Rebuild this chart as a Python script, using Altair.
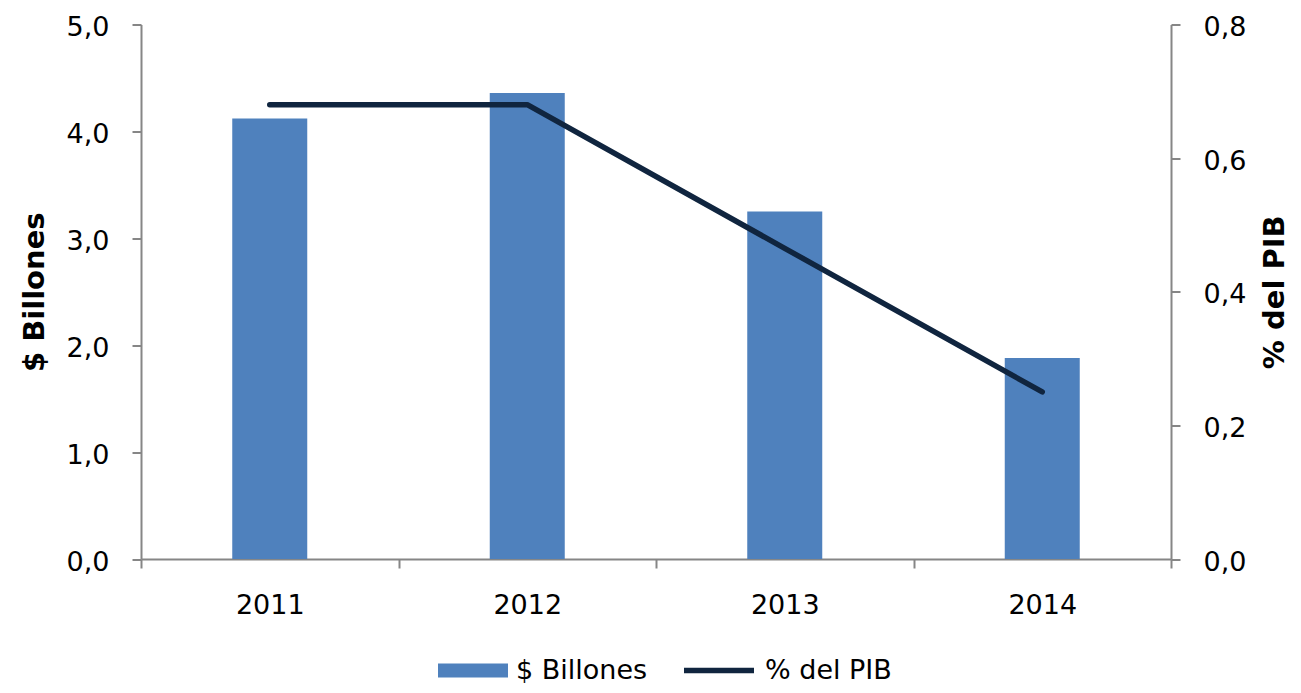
import altair as alt
import pandas as pd

years = ["2011", "2012", "2013", "2014"]
billones = [4.12, 4.36, 3.25, 1.88]
pct_pib = [0.68, 0.68, 0.465, 0.25]
left_ticks = [0, 1, 2, 3, 4, 5]
right_ticks = [0, 0.2, 0.4, 0.6, 0.8]
series_names = ["$ Billones", "% del PIB"]
series_colors = ["#4F81BD", "#10253F"]

bars_df = pd.DataFrame({"year": years, "value": billones, "serie": series_names[0]})
line_df = pd.DataFrame({"year": years, "value": pct_pib, "serie": series_names[1]})

FONT = "DejaVu Sans"
GRAY = "#868686"
LABEL_SIZE = 27
TITLE_SIZE = 29

x_enc = alt.X(
    "year:N",
    sort=years,
    scale=alt.Scale(paddingInner=0, paddingOuter=0),
    axis=alt.Axis(
        title=None,
        tickBand="extent",
        labelPadding=24,
        labelAngle=0,
    ),
)

legend_common = dict(
    title=None,
    orient="none",
    direction="horizontal",
    labelFont=FONT,
    labelFontSize=LABEL_SIZE,
    labelColor="#000000",
    labelOffset=8,
    symbolSize=4900,
    symbolOpacity=1,
)

bars = alt.Chart(bars_df).mark_bar(size=75).encode(
    x=x_enc,
    y=alt.Y(
        "value:Q",
        scale=alt.Scale(domain=[0, 5], nice=False),
        axis=alt.Axis(
            orient="left",
            values=left_ticks,
            title="$ Billones",
            titleFontSize=TITLE_SIZE,
            titleFontWeight="bold",
            titleFont=FONT,
            titleColor="#000000",
            titlePadding=17,
            labelPadding=23,
            labelOffset=3,
            labelExpr="replace(format(datum.value, '.1f'), '.', ',')",
        ),
    ),
    fill=alt.Fill(
        "serie:N",
        scale=alt.Scale(domain=[series_names[0]], range=[series_colors[0]]),
        legend=alt.Legend(
            legendX=297,
            legendY=611,
            symbolType="M-1,-0.2H1V0.2H-1Z",
            symbolStrokeWidth=0,
            **legend_common,
        ),
    ),
)

line = alt.Chart(line_df).mark_line(strokeWidth=5.5, strokeCap="round", strokeJoin="round").encode(
    x=alt.X("year:N", sort=years),
    y=alt.Y(
        "value:Q",
        scale=alt.Scale(domain=[0, 0.8], nice=False),
        axis=alt.Axis(
            orient="right",
            values=right_ticks,
            title="% del PIB",
            titleFontSize=TITLE_SIZE,
            titleFontWeight="bold",
            titleFont=FONT,
            titleColor="#000000",
            titleAngle=270,
            titleBaseline="top",
            titlePadding=15,
            labelPadding=23,
            labelOffset=3,
            labelExpr="replace(format(datum.value, '.1f'), '.', ',')",
        ),
    ),
    stroke=alt.Stroke(
        "serie:N",
        scale=alt.Scale(domain=[series_names[1]], range=[series_colors[1]]),
        legend=alt.Legend(
            legendX=540,
            legendY=608,
            symbolType="M-1,0H1",
            symbolStrokeWidth=5.5,
            **legend_common,
        ),
    ),
)

chart = (
    alt.layer(bars, line)
    .resolve_scale(y="independent")
    .properties(
        width=1030,
        height=534.5,
        autosize=alt.AutoSizeParams(type="none"),
        padding={"left": 133, "top": 16.5, "right": 122, "bottom": 126},
    )
    .configure_view(stroke=None)
    .configure_axis(
        grid=False,
        domainColor=GRAY,
        domainWidth=2,
        tickColor=GRAY,
        tickWidth=2,
        tickSize=9,
        labelFont=FONT,
        labelFontSize=LABEL_SIZE,
        labelColor="#000000",
    )
)

chart.save("out.html", embed_options={"renderer": "svg", "actions": False})
